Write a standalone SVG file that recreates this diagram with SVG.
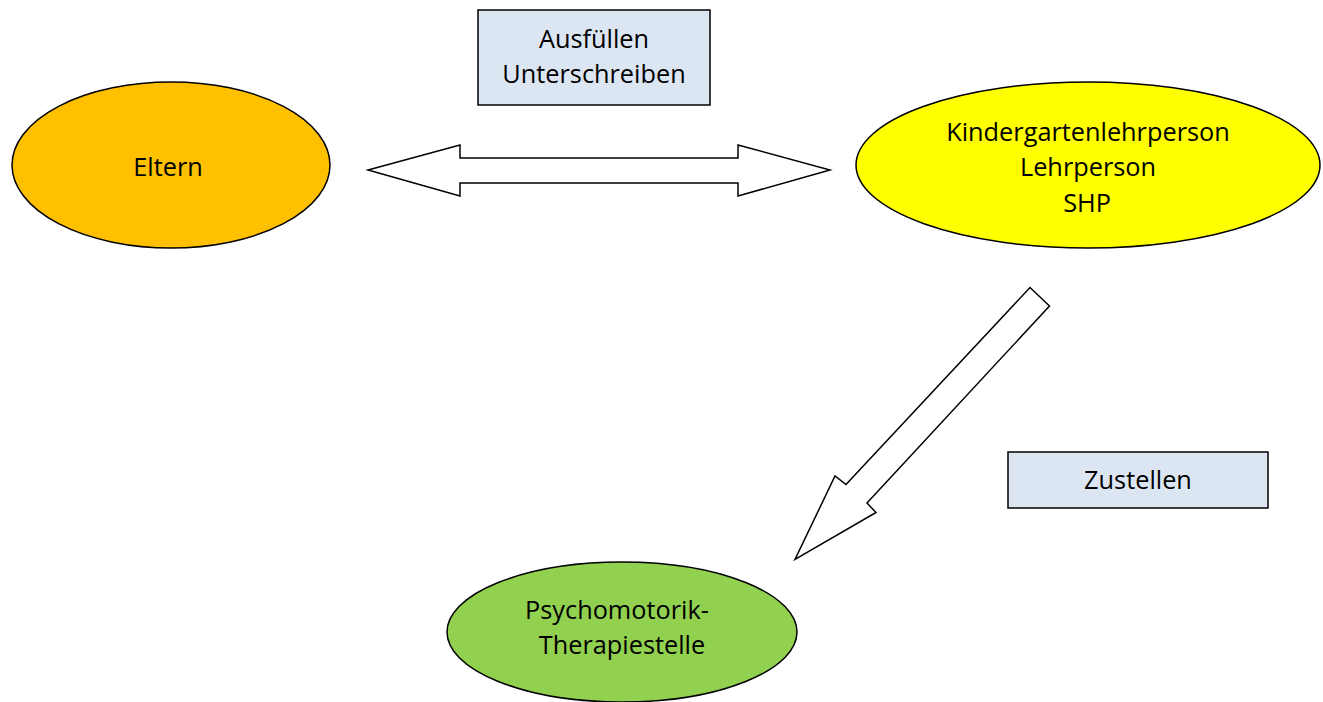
<svg xmlns="http://www.w3.org/2000/svg" width="1323" height="702" viewBox="0 0 1323 702">
<style>
.lbl{font-family:"Open Sans","Liberation Sans",Arial,sans-serif;font-size:25.3px;fill:#000;text-anchor:middle}
.node{stroke:#000;stroke-width:1.5}
.box{fill:#DCE6F2;stroke:#000;stroke-width:1.5}
.arrow{fill:#fff;stroke:#000;stroke-width:1.5;stroke-linejoin:miter}
</style>
<rect width="1323" height="702" fill="#fff"/>
<g id="connectors">
<polygon class="arrow" points="368,170 460,145 460,158 738,158 738,145 830,170 738,196 738,183 460,183 460,196"/>
<polygon class="arrow" points="1030,287.5 1049.5,306 867,503 876,512.5 795,559.5 835,476 846,484.5"/>
</g>
<g id="label-ausfuellen">
<rect class="box" x="478" y="10" width="232" height="95"/>
<text class="lbl" x="594" y="48">Ausfüllen</text>
<text class="lbl" x="594" y="83">Unterschreiben</text>
</g>
<g id="label-zustellen">
<rect class="box" x="1008" y="452" width="260" height="56"/>
<text class="lbl" x="1138" y="489">Zustellen</text>
</g>
<g id="node-eltern">
<ellipse class="node" cx="171" cy="165" rx="159" ry="83" fill="#FFC000"/>
<text class="lbl" x="168" y="176">Eltern</text>
</g>
<g id="node-lehrperson">
<ellipse class="node" cx="1088" cy="165" rx="232" ry="83" fill="#FFFF00"/>
<text class="lbl" x="1088" y="141">Kindergartenlehrperson</text>
<text class="lbl" x="1088" y="176">Lehrperson</text>
<text class="lbl" x="1087" y="212">SHP</text>
</g>
<g id="node-psychomotorik">
<ellipse class="node" cx="622" cy="632" rx="175" ry="70" fill="#92D050"/>
<text class="lbl" x="617" y="619">Psychomotorik-</text>
<text class="lbl" x="622" y="654">Therapiestelle</text>
</g>
</svg>
